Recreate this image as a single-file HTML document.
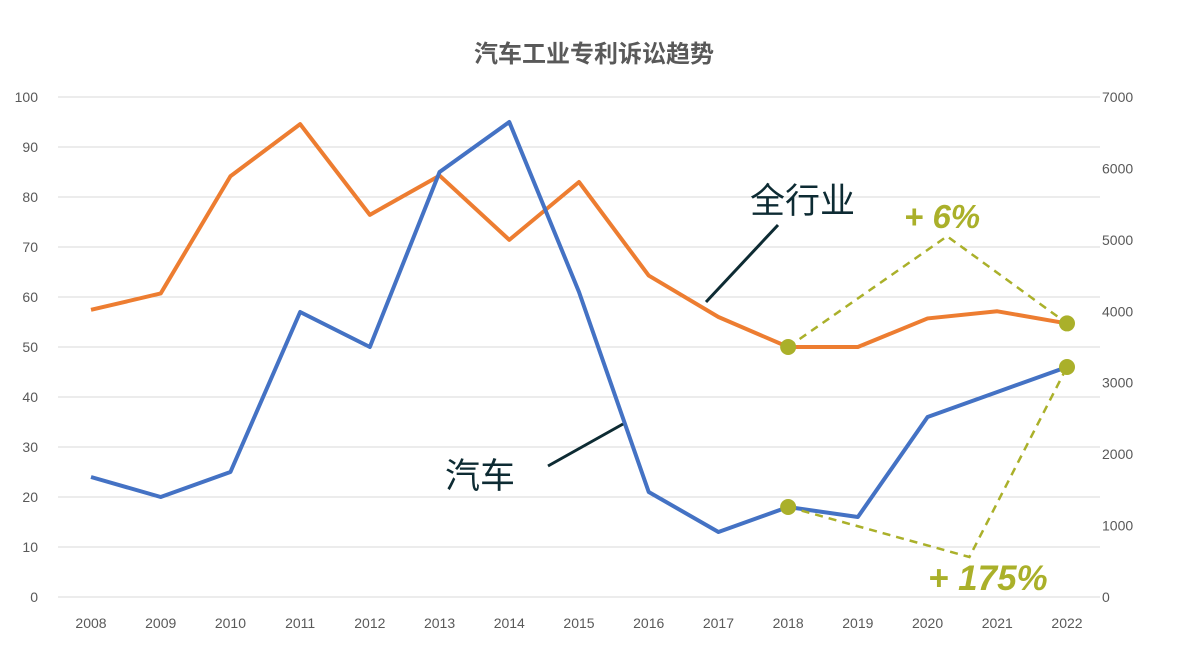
<!DOCTYPE html>
<html><head><meta charset="utf-8"><style>
body{margin:0;background:#fff;}
svg{display:block;font-family:"Liberation Sans","Noto Sans CJK SC",sans-serif;}
</style></head><body>
<svg id="chart" width="1188" height="662" viewBox="0 0 1188 662">
<text x="594" y="62" text-anchor="middle" font-size="24" font-weight="bold" fill="#595959">汽车工业专利诉讼趋势</text>
<g id="grid"></g><g id="ticks"></g><g id="series"></g><g id="notes"></g>
</svg>
<script>
const years=["2008","2009","2010","2011","2012","2013","2014","2015","2016","2017","2018","2019","2020","2021","2022"];
const autoValues=[24,20,25,57,50,85,95,61,21,13,18,16,36,41,46];
const industryValues=[4020,4250,5890,6620,5350,5900,5000,5810,4500,3920,3500,3500,3900,4000,3830];
const leftTicks=[0,10,20,30,40,50,60,70,80,90,100];
const rightTicks=[0,1000,2000,3000,4000,5000,6000,7000];
const industryPeak=5050; // dashed annotation peak (right axis)
const autoTrough=8;      // dashed annotation trough (left axis)

const NS="http://www.w3.org/2000/svg";
const x0=91,x1=1067,yB=597,yT=97;
const xs=i=>x0+(x1-x0)*i/(years.length-1);
const yL=v=>yB-(yB-yT)*v/100;
const yR=v=>yB-(yB-yT)*v/7000;
function mk(tag,attrs,parent){const e=document.createElementNS(NS,tag);for(const k in attrs)e.setAttribute(k,attrs[k]);document.getElementById(parent).appendChild(e);return e;}

leftTicks.forEach(t=>{
 const l=mk('line',{x1:58,x2:1100,y1:yL(t),y2:yL(t),stroke:'#d9d9d9','stroke-width':1},'grid');
 
 
 const tx=mk('text',{x:38,y:yL(t)+5,'text-anchor':'end','font-size':14,fill:'#595959'},'ticks');
 tx.textContent=t;
 
 
});
rightTicks.forEach(t=>{
 const tx=mk('text',{x:1102,y:yR(t)+5,'font-size':14,fill:'#595959'},'ticks');
 tx.textContent=t;
 
 
});
years.forEach((y,i)=>{
 const tx=mk('text',{x:xs(i),y:628,'text-anchor':'middle','font-size':14,fill:'#595959'},'ticks');
 tx.textContent=y;
 
 
});
const pInd=mk('polyline',{points:industryValues.map((v,i)=>xs(i)+','+yR(v)).join(' '),fill:'none',stroke:'#ed7d31','stroke-width':4,'stroke-linejoin':'round'},'series');


const pAuto=mk('polyline',{points:autoValues.map((v,i)=>xs(i)+','+yL(v)).join(' '),fill:'none',stroke:'#4472c4','stroke-width':4,'stroke-linejoin':'round'},'series');



const i18=10,i22=14;
const d1=mk('polyline',{points:`${xs(i18)},${yR(industryValues[i18])} ${xs(12.28)},${yR(industryPeak)} ${xs(i22)},${yR(industryValues[i22])}`,fill:'none',stroke:'#aab02a','stroke-width':2.5,'stroke-dasharray':'8,6'},'notes');


const d2=mk('polyline',{points:`${xs(i18)},${yL(autoValues[i18])} ${xs(12.6)},${yL(autoTrough)} ${xs(i22)},${yL(autoValues[i22])}`,fill:'none',stroke:'#aab02a','stroke-width':2.5,'stroke-dasharray':'8,6'},'notes');


[[i18,yR(industryValues[i18])],[i22,yR(industryValues[i22])],[i18,yL(autoValues[i18])],[i22,yL(autoValues[i22])]].forEach(p=>{
 const c=mk('circle',{cx:xs(p[0]),cy:p[1],r:8,fill:'#aab02a'},'notes');
 
 
});
const a1=mk('line',{x1:706,y1:302,x2:778,y2:225,stroke:'#0d2b33','stroke-width':3},'notes');


const a2=mk('line',{x1:548,y1:466,x2:623,y2:424,stroke:'#0d2b33','stroke-width':3},'notes');


function label(txt,x,y,size,color,name,extra){const t=mk('text',Object.assign({x:x,y:y,'font-size':size,fill:color},extra||{}),'notes');t.textContent=txt;}
label('全行业',750,213,35,'#0d2b33','industry-label');
label('汽车',445,488,35,'#0d2b33','auto-label');
label('+ 6%',904,228,33,'#aab02a','industry-change-label',{'font-weight':'bold','font-style':'italic'});
label('+ 175%',928,590,35,'#aab02a','auto-change-label',{'font-weight':'bold','font-style':'italic'});
</script>
</body></html>
